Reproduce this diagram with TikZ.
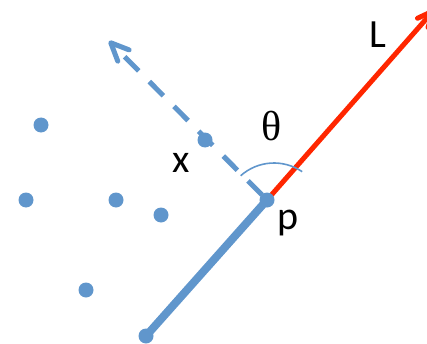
\documentclass[tikz,border=0pt]{standalone}
\usepackage{fontspec}
\setmainfont{Carlito}
\newfontfamily\serifgreek{Liberation Serif}
\usetikzlibrary{arrows.meta}
\definecolor{ptblue}{RGB}{96,150,204}
\definecolor{ptred}{RGB}{255,38,0}
\tikzset{
  pt/.style={circle,fill=ptblue,inner sep=0pt,minimum size=15pt},
  lbl/.style={anchor=base,inner sep=0pt,font=\fontsize{40}{48}\selectfont},
  bluebarb/.style={-{Straight Barb[length=18pt,width=16pt,line cap=round,line join=round]}},
  redbarb/.style={-{Straight Barb[length=16pt,width=14pt,line cap=round,line join=round]}}
}
\begin{document}
\begin{tikzpicture}[x=1pt,y=1pt]
\useasboundingbox (0,0) rectangle (427,343);
% points
\coordinate (p0) at (267,143);
\coordinate (tipx) at (109,302);
\coordinate (tipl) at (435,334);
\coordinate (a) at (146,7);
% lines
\draw[ptblue,line width=8pt] (a) -- (p0);
\draw[ptred,line width=5pt,redbarb] (p0) -- (tipl);
\draw[ptblue,line width=5pt,dash pattern=on 20pt off 15pt,shorten <=7pt,bluebarb] (p0) -- (tipx);
\draw[ptblue,line width=1.6pt] (274,130) ++(131.8:50) arc[start angle=131.8,end angle=55.7,radius=50];
% dots
\node[pt] (d1) at (41,218) {};
\node[pt] (d2) at (26,143) {};
\node[pt] (d3) at (116,143) {};
\node[pt] (d4) at (161,128) {};
\node[pt] (d5) at (86,53) {};
\node[pt] (d6) at (146,7) {};
\node[pt] (d7) at (205,203) {};
\node[pt] (p) at (p0) {};
% labels
\node[lbl] (lL) at (378,295) {L};
\node[lbl] (lx) at (181,171) {x};
\node[lbl] (lp) at (288,114) {p};
\node[anchor=base,inner sep=0pt,font=\fontsize{42}{48}\selectfont\serifgreek] (lt) at (272,203) {θ};
\end{tikzpicture}
\end{document}
